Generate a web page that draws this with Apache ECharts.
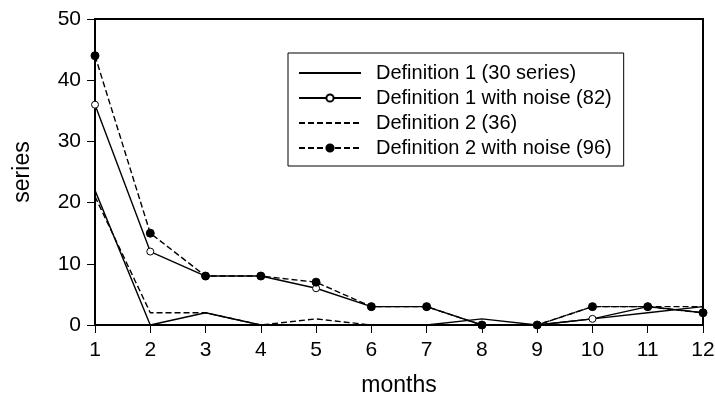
<!DOCTYPE html>
<html>
<head>
<meta charset="utf-8">
<script src="https://cdn.jsdelivr.net/npm/echarts@6/dist/echarts.min.js"></script>
<style>
  html, body { margin: 0; padding: 0; background: #fff; }
  #chart { width: 715px; height: 396px; }
</style>
</head>
<body>
<div id="chart"></div>
<script>
const months = ["1", "2", "3", "4", "5", "6", "7", "8", "9", "10", "11", "12"];
const def1 = [22, 0, 2, 0, 0, 0, 0, 1, 0, 1, 2, 3];
const def1Noise = [36, 12, 8, 8, 6, 3, 3, 0, 0, 1, 3, 2];
const def2 = [21, 2, 2, 0, 1, 0, 0, 0, 0, 3, 3, 3];
const def2Noise = [44, 15, 8, 8, 7, 3, 3, 0, 0, 3, 3, 2];
const names = ["Definition 1 (30 series)", "Definition 1 with noise (82)", "Definition 2 (36)", "Definition 2 with noise (96)"];

const chart = echarts.init(document.getElementById("chart"));
const font = "Liberation Sans, Arial, sans-serif";

const lineSeries = (name, data, dashed, symbol) => ({
  name,
  type: "line",
  data,
  symbol: symbol === "none" ? "none" : "circle",
  showSymbol: symbol !== "none",
  symbolSize: symbol === "filled" ? 8 : 7,
  itemStyle: {
    color: symbol === "hollow" ? "#fff" : "#000",
    borderColor: "#000",
    borderWidth: 1,
  },
  lineStyle: { color: "#000", width: 1.4, type: dashed ? [6, 3] : "solid" },
  z: 3,
});

chart.setOption({
  animation: false,
  textStyle: { fontFamily: font },
  grid: {
    left: 95, right: 12, top: 19, bottom: 71,
    outerBoundsMode: "none",
    containLabel: false,
    show: true, borderColor: "#000", borderWidth: 2,
  },
  legend: {
    left: 288,
    top: 53,
    orient: "vertical",
    padding: [10, 12, 8, 10],
    itemGap: 5,
    itemWidth: 62,
    itemHeight: 9,
    borderColor: "#000",
    borderWidth: 1,
    textStyle: { color: "#000", fontSize: 20, fontFamily: font, padding: [0, 0, 0, 10] },
    data: [
      { name: names[0], itemStyle: { opacity: 0 } },
      { name: names[1] },
      { name: names[2], itemStyle: { opacity: 0 } },
      { name: names[3] },
    ],
  },
  xAxis: {
    type: "category",
    data: months,
    boundaryGap: false,
    name: "months",
    nameLocation: "middle",
    nameGap: 49,
    nameMoveOverlap: false,
    nameTextStyle: { color: "#000", fontSize: 23, fontFamily: font },
    axisLine: { lineStyle: { color: "#000", width: 2 } },
    axisTick: { show: true, alignWithLabel: true, length: 8, lineStyle: { color: "#000", width: 1 } },
    axisLabel: { color: "#000", fontSize: 21, margin: 15, fontFamily: font },
    splitLine: { show: false },
  },
  yAxis: {
    type: "value",
    min: 0,
    max: 50,
    interval: 10,
    name: "series",
    nameLocation: "middle",
    nameGap: 61,
    nameMoveOverlap: false,
    nameTextStyle: { color: "#000", fontSize: 23, fontFamily: font },
    axisLine: { show: true, lineStyle: { color: "#000", width: 2 } },
    axisTick: { show: true, length: 8, lineStyle: { color: "#000", width: 1 } },
    axisLabel: { color: "#000", fontSize: 21, margin: 14, fontFamily: font },
    splitLine: { show: false },
  },
  series: [
    lineSeries(names[0], def1, false, "none"),
    lineSeries(names[1], def1Noise, false, "hollow"),
    lineSeries(names[2], def2, true, "none"),
    lineSeries(names[3], def2Noise, true, "filled"),
  ],
});
</script>
</body>
</html>
